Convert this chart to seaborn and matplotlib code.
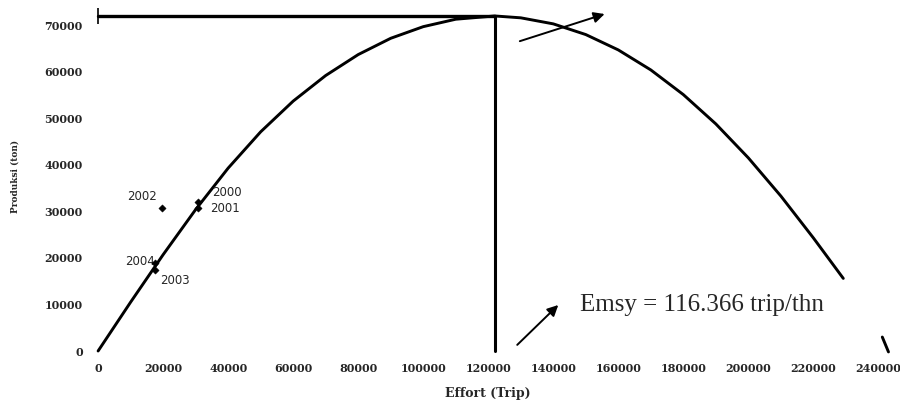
import matplotlib
matplotlib.use("Agg")
import matplotlib.pyplot as plt
import seaborn as sns
import pandas as pd

# curve values (effort in trips, production in tons)
curve_effort = [0, 10000, 20000, 30000, 40000, 50000, 60000, 70000, 80000, 90000,
                100000, 110000, 122000, 130000, 140000, 150000, 160000, 170000,
                180000, 190000, 200000, 210000, 220000, 229200]
curve_catch = [0, 10500, 20700, 30400, 39300, 47100, 53700, 59200, 63700, 67200,
               69700, 71300, 72000, 71600, 70300, 68000, 64700, 60400, 55100,
               48800, 41500, 33300, 24300, 15600]
tail_effort = [241200, 243100]
tail_catch = [3000, -200]

years = ["2000", "2001", "2002", "2003", "2004"]
obs_effort = [30800, 30800, 19700, 17500, 17500]
obs_catch = [32000, 30700, 30700, 17400, 18900]

e_msy = 122000
c_msy = 72000
msy_text = "Emsy = 116.366 trip/thn"

x_ticks = [0, 20000, 40000, 60000, 80000, 100000, 120000, 140000, 160000,
           180000, 200000, 220000, 240000]
y_ticks = [0, 10000, 20000, 30000, 40000, 50000, 60000, 70000]

sns.set_theme(style="white")
plt.rcParams['font.family'] = ['DejaVu Serif']

curve = pd.DataFrame({"effort": curve_effort, "catch": curve_catch})
tail = pd.DataFrame({"effort": tail_effort, "catch": tail_catch})
obs = pd.DataFrame({"year": years, "effort": obs_effort, "catch": obs_catch})

fig = plt.figure(figsize=(9, 4), dpi=100)
ax = fig.add_axes([0.109, 0.1225, 0.867, 0.8725])

sns.lineplot(data=curve, x="effort", y="catch", color="black", linewidth=2.1,
             ax=ax, sort=False)
sns.lineplot(data=tail, x="effort", y="catch", color="black", linewidth=2.1,
             ax=ax, sort=False)
for l in ax.lines:
    l.set_clip_on(False)
    l.set_solid_joinstyle("round")

# MSY guide lines
ax.plot([0, e_msy], [c_msy, c_msy], color="black", lw=2.4, marker="|",
        markevery=[0], markersize=11, markeredgewidth=1.2, clip_on=False)
ax.plot([e_msy, e_msy], [c_msy, 0], color="black", lw=2.2, clip_on=False)

sns.scatterplot(data=obs, x="effort", y="catch", color="black", marker="D",
                s=14, edgecolor="black", ax=ax, zorder=5, clip_on=False)

offsets = {"2000": (14, 10, "left"), "2001": (12, 0, "left"),
           "2002": (-5, 12, "right"), "2003": (5, -10, "left"),
           "2004": (-30, 2, "left")}
for yr, xe, yc in zip(years, obs_effort, obs_catch):
    dx, dy, ha = offsets[yr]
    ax.annotate(yr, (xe, yc), xytext=(dx, dy), textcoords="offset pixels",
                ha=ha, va="center", fontsize=8.5, family="DejaVu Sans")

ax.text(148300, 9900, msy_text, fontsize=18, family="Liberation Serif",
        ha="left", va="center")
ax.annotate("", xy=(142150, 10300), xytext=(128300, 900),
            arrowprops=dict(arrowstyle="-|>", color="black", lw=1.4,
                            mutation_scale=16))
ax.annotate("", xy=(156600, 72600), xytext=(128900, 66400),
            arrowprops=dict(arrowstyle="-|>", color="black", lw=1.4,
                            mutation_scale=16), annotation_clip=False)

ax.set_xlim(0, 240000)
ax.set_ylim(0, 75000)
ax.set_xticks(x_ticks)
ax.set_xticklabels([str(v) for v in x_ticks])
ax.set_yticks(y_ticks)
ax.set_yticklabels([str(v) for v in y_ticks])
ax.tick_params(axis="both", length=0, labelsize=8)
for lab in ax.get_xticklabels() + ax.get_yticklabels():
    lab.set_fontweight("bold")
ax.tick_params(axis="x", pad=9)
ax.tick_params(axis="y", pad=11)
for s in ax.spines.values():
    s.set_visible(False)

ax.set_xlabel("Effort (Trip)", fontsize=9, fontweight="bold", labelpad=9)
ax.set_ylabel("Produksi (ton)", fontsize=6.5, fontweight="bold", labelpad=18)

fig.savefig("out.png", dpi=100)
